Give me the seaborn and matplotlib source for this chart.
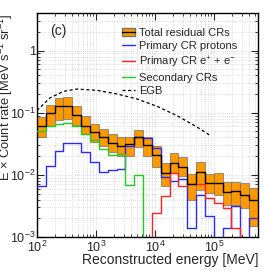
import numpy as np
import matplotlib
matplotlib.use("Agg")
import matplotlib.pyplot as plt
from matplotlib.patches import Patch
from matplotlib.lines import Line2D
from matplotlib.ticker import FuncFormatter
import seaborn as sns

# binning: 25 log-spaced bins from 10^2 to 10^5.75 MeV
log_e_min, log_e_max, n_bins = 2.0, 5.75, 25

# E x count rate per bin [MeV s^-1 sr^-1]
total = [0.062, 0.098, 0.126, 0.128, 0.092, 0.060, 0.048, 0.040, 0.033, 0.029,
         0.031, 0.040, 0.030, 0.021, 0.0108, 0.0153, 0.0135, 0.0070, 0.0112, 0.0075,
         0.0073, 0.0053, 0.0055, 0.0047, 0.0039]
total_lo = [0.040, 0.060, 0.077, 0.078, 0.064, 0.045, 0.034, 0.029, 0.023, 0.020,
            0.020, 0.028, 0.020, 0.0135, 0.0066, 0.0108, 0.0096, 0.0039, 0.0058, 0.0051,
            0.0047, 0.0033, 0.0033, 0.0029, 0.0015]
total_hi = [0.085, 0.132, 0.170, 0.178, 0.130, 0.089, 0.066, 0.055, 0.045, 0.041,
            0.040, 0.053, 0.040, 0.029, 0.0153, 0.0222, 0.0192, 0.0103, 0.0159, 0.0103,
            0.0105, 0.0076, 0.0077, 0.0073, 0.0062]
protons = [0.0067, 0.0140, 0.024, 0.033, 0.032, 0.0236, 0.016, 0.0112, 0.0118, 0.0123,
           0.029, 0.041, 0.039, 0.027, 0.0093, 0.0080, 0.0085, 0.0014, 0.0047, 0.0022,
           0.0, 0.0014, 0.0031, 0.0, 0.0020]
electrons = [0.0] * 13 + [0.0024, 0.0045, 0.0106, 0.0066, 0.0072, 0.0072, 0.0042,
                          0.0035, 0.0029, 0.0014, 0.0, 0.0]
secondary = [0.050, 0.061, 0.066, 0.068, 0.061, 0.045, 0.036, 0.026, 0.021, 0.022,
             0.0068, 0.0099] + [0.0] * 13

# extragalactic gamma-ray background
egb_e = [100, 165, 280, 470, 1040, 2280, 5000, 11000, 24000, 53000, 90000]
egb_v = [0.108, 0.172, 0.22, 0.24, 0.229, 0.20, 0.166, 0.126, 0.089, 0.058, 0.042]

orange = "#ff9900"
blue = "#2a2aff"
red = "#ff2020"
green = "#22cc22"

log_edges = np.linspace(log_e_min, log_e_max, n_bins + 1)
edges = 10 ** log_edges
energy = 10 ** (0.5 * (log_edges[:-1] + log_edges[1:]))

sns.set_style("ticks")
plt.rcParams["font.family"] = ["Liberation Sans", "DejaVu Sans"]
plt.rcParams["mathtext.default"] = "regular"

fig = plt.figure(figsize=(2.66, 2.73), dpi=100)
ax = fig.add_axes([0.139, 0.132, 0.831, 0.820])
ax.set_xscale("log")
ax.set_yscale("log")

lo = np.array(total_lo)
hi = np.array(total_hi)
ax.bar(edges[:-1], hi - lo, width=np.diff(edges), bottom=lo, align="edge",
       color=orange, edgecolor=(0.45, 0.45, 0.45, 0.7), linewidth=0.8, zorder=2)

for vals, col in [(protons, blue), (electrons, red), (secondary, green), (total, "black")]:
    sns.histplot(x=energy, weights=vals, bins=n_bins, binrange=(log_e_min, log_e_max),
                 element="step", fill=False, color=col, linewidth=1.0, ax=ax, zorder=3)

sns.lineplot(x=egb_e, y=egb_v, color="black", linestyle=(0, (2.5, 2)), linewidth=0.9,
             ax=ax, zorder=3)

ax.set_xlim(10 ** log_e_min, 10 ** log_e_max)
ax.set_ylim(1e-3, 4)

def fmt(v, pos):
    p = int(round(np.log10(v)))
    return "1" if p == 0 else "$10^{%d}$" % p

ax.yaxis.set_major_formatter(FuncFormatter(fmt))
ax.xaxis.set_major_formatter(FuncFormatter(fmt))
ax.tick_params(which="both", direction="in", top=True, right=True)
ax.tick_params(which="major", length=5, width=0.8, labelsize=9)
ax.tick_params(axis="y", which="major", pad=1)
ax.tick_params(axis="x", which="major", pad=2)
ax.tick_params(which="minor", length=2.5, width=0.6)
ax.grid(which="both", linestyle=(0, (1, 2)), color="0.75", linewidth=0.5)
for s in ax.spines.values():
    s.set_linewidth(1.0)
    s.set_color("black")

ax.set_xlabel("Reconstructed energy [MeV]", loc="right", fontsize=10, labelpad=-1.5)
ax.set_ylabel("E × Count rate [MeV s$^{-1}$ sr$^{-1}$]", loc="top", fontsize=9.3)
ax.yaxis.set_label_coords(-0.1, 1.0)
ax.text(0.06, 0.92, "(c)", transform=ax.transAxes, fontsize=10, va="center")

handles = [
    (Patch(facecolor=orange, edgecolor=(0.45, 0.45, 0.45)), Line2D([], [], color="black", lw=1)),
    Line2D([], [], color=blue, lw=1),
    Line2D([], [], color=red, lw=1),
    Line2D([], [], color=green, lw=1),
    Line2D([], [], color="black", lw=0.9, linestyle=(0, (2.5, 2))),
]
labels = ["Total residual CRs", "Primary CR protons", "Primary CR e$^{+}$ + e$^{-}$",
          "Secondary CRs", "EGB"]
ax.legend(handles, labels, loc="upper right", bbox_to_anchor=(0.925, 0.955), frameon=False,
          fontsize=8, handlelength=1.2, handletextpad=0.3, labelspacing=0.3,
          borderaxespad=0.0)

fig.savefig("out.png", dpi=100)
